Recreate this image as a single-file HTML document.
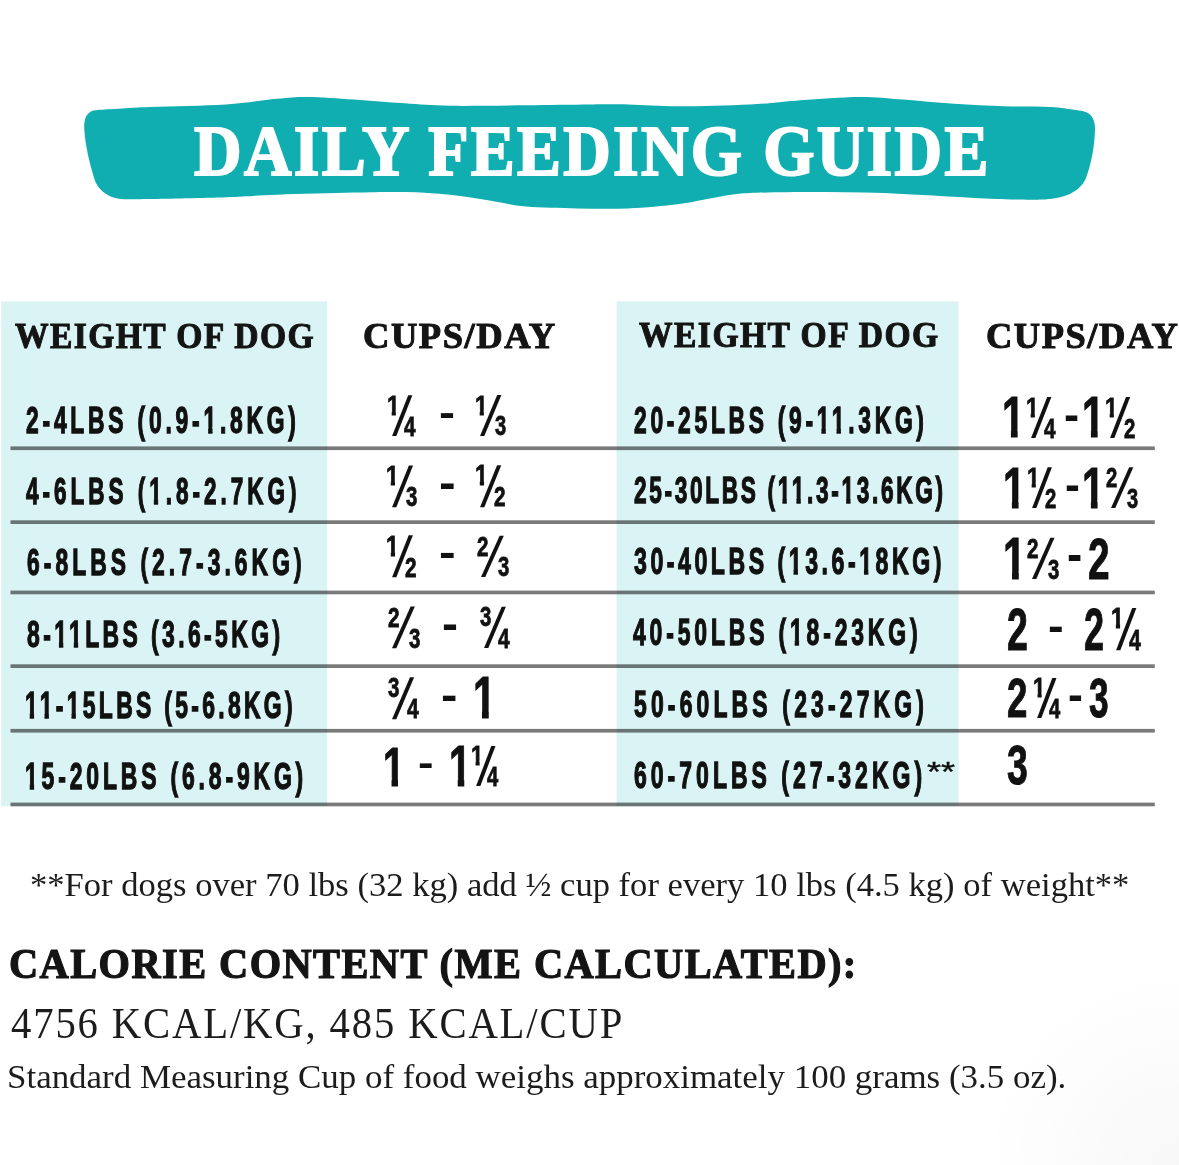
<!DOCTYPE html>
<html lang="en"><head><meta charset="utf-8"><title>Daily Feeding Guide</title>
<style>
html,body{margin:0;padding:0;background:#fff}
body{width:1179px;height:1165px;position:relative;overflow:hidden}
.bg{position:absolute;left:0;top:0}
.t{position:absolute;white-space:nowrap;line-height:1;transform-origin:0 0;color:#111}
.sa{font-family:"Liberation Sans","DejaVu Sans",sans-serif}
.se{font-family:"Liberation Serif","DejaVu Serif",serif}
.b{font-weight:700}
</style></head><body>
<svg class="bg" width="1179" height="1165" viewBox="0 0 1179 1165">
<defs><radialGradient id="sh" cx="1179" cy="1165" r="200" gradientUnits="userSpaceOnUse"><stop offset="0" stop-color="#000" stop-opacity="0.03"/><stop offset="1" stop-color="#000" stop-opacity="0"/></radialGradient></defs>
<rect x="0" y="0" width="1179" height="1165" fill="url(#sh)"/>
<path d="M96.0 110.2C105.0 109.7 128.3 108.0 150.0 107.1C171.7 106.1 204.8 105.9 226.0 104.5C247.2 103.1 263.3 100.0 277.0 98.7C290.7 97.4 295.2 96.8 308.0 96.9C320.8 97.0 337.9 98.4 354.0 99.5C370.1 100.6 388.5 102.2 404.5 103.3C420.5 104.3 429.8 105.5 450.0 105.8C470.2 106.1 502.7 105.5 526.0 105.3C549.3 105.1 573.0 104.6 590.0 104.5C607.0 104.4 613.2 104.2 628.0 104.5C642.8 104.8 658.7 106.3 679.0 106.3C699.3 106.3 729.7 105.5 750.0 104.5C770.3 103.5 782.8 101.5 801.0 100.2C819.2 98.9 842.0 97.0 859.0 96.9C876.0 96.8 887.2 98.3 903.0 99.5C918.8 100.7 937.1 102.7 954.0 103.8C970.9 104.9 988.5 105.8 1004.5 106.3C1020.5 106.8 1037.2 106.3 1050.0 107.1C1062.8 107.8 1075.8 110.2 1081.0 110.8C1090 112 1095 118 1095 128C1095 145 1091 165 1086 178C1080 192 1065 198 1045 199.4C1040.8 199.4 1031.0 199.8 1020.0 199.6C1009.0 199.4 998.5 199.1 979.0 198.2C959.5 197.2 928.5 194.9 903.0 193.9C877.5 192.9 851.5 192.2 826.0 192.1C800.5 192.0 768.2 192.2 750.0 193.1C731.8 193.9 728.8 195.4 717.0 197.2C705.2 199.0 693.8 202.1 679.0 204.0C664.2 205.9 645.0 207.7 628.0 208.4C611.0 209.1 594.0 208.7 577.0 208.4C560.0 208.1 540.8 207.9 526.0 206.6C511.2 205.2 500.7 202.3 488.0 200.3C475.3 198.3 463.9 196.1 450.0 194.7C436.1 193.3 420.5 192.4 404.5 192.1C388.5 191.8 375.2 192.2 354.0 192.6C332.8 193.0 298.3 193.9 277.0 194.7C255.7 195.5 247.2 196.5 226.0 197.2C204.8 197.9 167.0 198.7 150.0 199.0C133.0 199.3 128.3 199.2 124.0 199.3C110 198.8 100 192 95 181C90 165 85 145 84.2 128C83.8 117 88 110.5 96 110.2Z" fill="#10aeb0"/>
<rect x="1.2" y="301.3" width="325.9" height="505" fill="#daf3f4"/>
<rect x="616.6" y="301.3" width="342.0" height="505" fill="#daf3f4"/>
<rect x="10.5" y="446.4" width="1144.3" height="3.7" fill="#000" fill-opacity="0.52"/>
<rect x="10.5" y="520.3" width="1144.3" height="3.7" fill="#000" fill-opacity="0.52"/>
<rect x="10.5" y="590.6" width="1144.3" height="3.7" fill="#000" fill-opacity="0.52"/>
<rect x="10.5" y="664.3" width="1144.3" height="3.7" fill="#000" fill-opacity="0.52"/>
<rect x="10.5" y="728.9" width="1144.3" height="3.7" fill="#000" fill-opacity="0.52"/>
<rect x="10.5" y="802.6" width="1144.3" height="3.7" fill="#000" fill-opacity="0.52"/>
</svg>
<div class="t se b" style="left:193.94px;top:116.00px;font-size:70.84px;transform:scaleX(0.9297);letter-spacing:2.500px;-webkit-text-stroke:2.00px #ffffff;color:#ffffff">DAILY FEEDING GUIDE</div>
<div class="t se b" style="left:15.10px;top:318.70px;font-size:35.57px;transform:scaleX(0.9440);letter-spacing:1.500px;-webkit-text-stroke:1.00px #141414;color:#141414">WEIGHT OF DOG</div>
<div class="t se b" style="left:362.88px;top:318.50px;font-size:35.11px;transform:scaleX(1.0400);letter-spacing:1.500px;-webkit-text-stroke:1.00px #141414;color:#141414">CUPS/DAY</div>
<div class="t se b" style="left:638.69px;top:319.30px;font-size:34.81px;transform:scaleX(0.9649);letter-spacing:1.500px;-webkit-text-stroke:1.00px #141414;color:#141414">WEIGHT OF DOG</div>
<div class="t se b" style="left:985.75px;top:318.50px;font-size:35.42px;transform:scaleX(1.0295);letter-spacing:1.500px;-webkit-text-stroke:1.00px #141414;color:#141414">CUPS/DAY</div>
<div class="t sa b" style="left:26.18px;top:402.75px;font-size:36.83px;transform:scaleX(0.6200);letter-spacing:6.108px;-webkit-text-stroke:1.30px #111111">2-4LBS (0.9-<span style="clip-path:polygon(-30px -30px,90px -30px,90px 27.59px,14.60px 27.59px,14.60px 90px,7.65px 90px,7.65px 27.59px,-30px 27.59px)">1</span>.8KG)</div>
<div class="t sa b" style="left:25.53px;top:473.55px;font-size:36.26px;transform:scaleX(0.6200);letter-spacing:6.458px;-webkit-text-stroke:1.30px #111111">4-6LBS (<span style="clip-path:polygon(-30px -30px,90px -30px,90px 27.65px,14.39px 27.65px,14.39px 90px,7.51px 90px,7.51px 27.65px,-30px 27.65px)">1</span>.8-2.7KG)</div>
<div class="t sa b" style="left:27.02px;top:545.25px;font-size:36.83px;transform:scaleX(0.6200);letter-spacing:6.546px;-webkit-text-stroke:1.30px #111111">6-8LBS (2.7-3.6KG)</div>
<div class="t sa b" style="left:27.14px;top:615.55px;font-size:36.98px;transform:scaleX(0.6200);letter-spacing:5.474px;-webkit-text-stroke:1.30px #111111">8-<span style="clip-path:polygon(-30px -30px,90px -30px,90px 27.58px,14.65px 27.58px,14.65px 90px,7.68px 90px,7.68px 27.58px,-30px 27.58px)">1</span><span style="clip-path:polygon(-30px -30px,90px -30px,90px 27.58px,14.65px 27.58px,14.65px 90px,7.68px 90px,7.68px 27.58px,-30px 27.58px)">1</span>LBS (3.6-5KG)</div>
<div class="t sa b" style="left:25.49px;top:687.05px;font-size:36.98px;transform:scaleX(0.6200);letter-spacing:5.321px;-webkit-text-stroke:1.30px #111111"><span style="clip-path:polygon(-30px -30px,90px -30px,90px 27.58px,14.65px 27.58px,14.65px 90px,7.68px 90px,7.68px 27.58px,-30px 27.58px)">1</span><span style="clip-path:polygon(-30px -30px,90px -30px,90px 27.58px,14.65px 27.58px,14.65px 90px,7.68px 90px,7.68px 27.58px,-30px 27.58px)">1</span>-<span style="clip-path:polygon(-30px -30px,90px -30px,90px 27.58px,14.65px 27.58px,14.65px 90px,7.68px 90px,7.68px 27.58px,-30px 27.58px)">1</span>5LBS (5-6.8KG)</div>
<div class="t sa b" style="left:25.49px;top:758.05px;font-size:36.98px;transform:scaleX(0.6200);letter-spacing:6.212px;-webkit-text-stroke:1.30px #111111"><span style="clip-path:polygon(-30px -30px,90px -30px,90px 27.58px,14.65px 27.58px,14.65px 90px,7.68px 90px,7.68px 27.58px,-30px 27.58px)">1</span>5-20LBS (6.8-9KG)</div>
<div class="t sa b" style="left:633.68px;top:402.75px;font-size:36.83px;transform:scaleX(0.6200);letter-spacing:5.966px;-webkit-text-stroke:1.30px #111111">20-25LBS (9-<span style="clip-path:polygon(-30px -30px,90px -30px,90px 27.59px,14.60px 27.59px,14.60px 90px,7.65px 90px,7.65px 27.59px,-30px 27.59px)">1</span><span style="clip-path:polygon(-30px -30px,90px -30px,90px 27.59px,14.60px 27.59px,14.60px 90px,7.65px 90px,7.65px 27.59px,-30px 27.59px)">1</span>.3KG)</div>
<div class="t sa b" style="left:633.68px;top:473.25px;font-size:36.55px;transform:scaleX(0.6200);letter-spacing:4.296px;-webkit-text-stroke:1.30px #111111">25-30LBS (<span style="clip-path:polygon(-30px -30px,90px -30px,90px 27.62px,14.49px 27.62px,14.49px 90px,7.58px 90px,7.58px 27.62px,-30px 27.62px)">1</span><span style="clip-path:polygon(-30px -30px,90px -30px,90px 27.62px,14.49px 27.62px,14.49px 90px,7.58px 90px,7.58px 27.62px,-30px 27.62px)">1</span>.3-<span style="clip-path:polygon(-30px -30px,90px -30px,90px 27.62px,14.49px 27.62px,14.49px 90px,7.58px 90px,7.58px 27.62px,-30px 27.62px)">1</span>3.6KG)</div>
<div class="t sa b" style="left:633.90px;top:543.25px;font-size:37.27px;transform:scaleX(0.6200);letter-spacing:5.706px;-webkit-text-stroke:1.30px #111111">30-40LBS (<span style="clip-path:polygon(-30px -30px,90px -30px,90px 28.55px,14.76px 28.55px,14.76px 90px,7.75px 90px,7.75px 28.55px,-30px 28.55px)">1</span>3.6-<span style="clip-path:polygon(-30px -30px,90px -30px,90px 28.55px,14.76px 28.55px,14.76px 90px,7.75px 90px,7.75px 28.55px,-30px 28.55px)">1</span>8KG)</div>
<div class="t sa b" style="left:633.06px;top:614.25px;font-size:36.98px;transform:scaleX(0.6200);letter-spacing:6.213px;-webkit-text-stroke:1.30px #111111">40-50LBS (<span style="clip-path:polygon(-30px -30px,90px -30px,90px 27.58px,14.65px 27.58px,14.65px 90px,7.68px 90px,7.68px 27.58px,-30px 27.58px)">1</span>8-23KG)</div>
<div class="t sa b" style="left:633.68px;top:685.75px;font-size:36.98px;transform:scaleX(0.6200);letter-spacing:6.720px;-webkit-text-stroke:1.30px #111111">50-60LBS (23-27KG)</div>
<div class="t sa b" style="left:634.16px;top:756.65px;font-size:37.12px;transform:scaleX(0.6200);letter-spacing:6.470px;-webkit-text-stroke:1.30px #111111">60-70LBS (27-32KG)</div>
<div class="t sa" style="left:926.92px;top:757.24px;font-size:28.17px;transform:scaleX(1.2789);-webkit-text-stroke:0.40px #111111">**</div>
<div class="t sa b" style="left:386.69px;top:391.84px;font-size:27.97px;transform:scaleX(0.8000);clip-path:polygon(-40px -40px,400px -40px,400px 18.55px,11.06px 18.55px,11.06px 63.00px,5.83px 63.00px,5.83px 18.55px,-40px 18.55px);-webkit-text-stroke:0.80px #111111">1</div>
<div class="t sa b" style="left:391.72px;top:389.00px;font-size:54.93px;transform-origin:0 46.00px;transform:scaleX(0.6598) skewX(-22.15deg)">/</div>
<div class="t sa b" style="left:404.35px;top:412.70px;font-size:27.89px;transform:scaleX(0.7400);-webkit-text-stroke:0.80px #111111">4</div>
<div class="t sa b" style="left:438.62px;top:391.80px;font-size:40.00px;transform:scaleX(1.2019)">-</div>
<div class="t sa b" style="left:474.87px;top:391.69px;font-size:28.04px;transform:scaleX(0.8000);clip-path:polygon(-40px -40px,400px -40px,400px 18.54px,11.09px 18.54px,11.09px 63.00px,5.84px 63.00px,5.84px 18.54px,-40px 18.54px);-webkit-text-stroke:0.80px #111111">1</div>
<div class="t sa b" style="left:480.12px;top:388.90px;font-size:55.06px;transform-origin:0 46.00px;transform:scaleX(0.6582) skewX(-24.00deg)">/</div>
<div class="t sa b" style="left:494.95px;top:412.33px;font-size:27.17px;transform:scaleX(0.7400);-webkit-text-stroke:0.80px #111111">3</div>
<div class="t sa b" style="left:386.24px;top:461.18px;font-size:28.47px;transform:scaleX(0.8000);clip-path:polygon(-40px -40px,400px -40px,400px 19.50px,11.25px 19.50px,11.25px 64.00px,5.94px 64.00px,5.94px 19.50px,-40px 19.50px);-webkit-text-stroke:0.80px #111111">1</div>
<div class="t sa b" style="left:391.56px;top:458.68px;font-size:55.87px;transform-origin:0 47.00px;transform:scaleX(0.6487) skewX(-23.47deg)">/</div>
<div class="t sa b" style="left:405.89px;top:483.12px;font-size:27.58px;transform:scaleX(0.7400);-webkit-text-stroke:0.80px #111111">3</div>
<div class="t sa b" style="left:438.75px;top:459.67px;font-size:45.83px;transform:scaleX(1.0909)">-</div>
<div class="t sa b" style="left:474.70px;top:461.08px;font-size:28.61px;transform:scaleX(0.8000);clip-path:polygon(-40px -40px,400px -40px,400px 19.48px,11.30px 19.48px,11.30px 64.00px,5.98px 64.00px,5.98px 19.48px,-40px 19.48px);-webkit-text-stroke:0.80px #111111">1</div>
<div class="t sa b" style="left:480.09px;top:458.68px;font-size:56.14px;transform-origin:0 47.00px;transform:scaleX(0.6456) skewX(-23.74deg)">/</div>
<div class="t sa b" style="left:494.38px;top:483.40px;font-size:28.12px;transform:scaleX(0.7400);-webkit-text-stroke:0.80px #111111">2</div>
<div class="t sa b" style="left:386.20px;top:531.78px;font-size:28.61px;transform:scaleX(0.8000);clip-path:polygon(-40px -40px,400px -40px,400px 19.48px,11.30px 19.48px,11.30px 64.00px,5.98px 64.00px,5.98px 19.48px,-40px 19.48px);-webkit-text-stroke:0.80px #111111">1</div>
<div class="t sa b" style="left:391.52px;top:529.38px;font-size:56.14px;transform-origin:0 47.00px;transform:scaleX(0.6456) skewX(-23.08deg)">/</div>
<div class="t sa b" style="left:405.38px;top:554.10px;font-size:28.12px;transform:scaleX(0.7400);-webkit-text-stroke:0.80px #111111">2</div>
<div class="t sa b" style="left:438.75px;top:532.30px;font-size:42.50px;transform:scaleX(1.1765)">-</div>
<div class="t sa b" style="left:476.88px;top:532.54px;font-size:27.77px;transform:scaleX(0.7400);-webkit-text-stroke:0.80px #111111">2</div>
<div class="t sa b" style="left:481.11px;top:529.89px;font-size:55.46px;transform-origin:0 46.00px;transform:scaleX(0.6534) skewX(-26.55deg)">/</div>
<div class="t sa b" style="left:497.57px;top:553.33px;font-size:27.38px;transform:scaleX(0.7400);-webkit-text-stroke:0.80px #111111">3</div>
<div class="t sa b" style="left:387.97px;top:603.53px;font-size:28.05px;transform:scaleX(0.7400);-webkit-text-stroke:0.80px #111111">2</div>
<div class="t sa b" style="left:392.21px;top:600.08px;font-size:56.00px;transform-origin:0 47.00px;transform:scaleX(0.6471) skewX(-26.55deg)">/</div>
<div class="t sa b" style="left:408.56px;top:624.52px;font-size:27.65px;transform:scaleX(0.7400);-webkit-text-stroke:0.80px #111111">3</div>
<div class="t sa b" style="left:441.62px;top:601.07px;font-size:45.83px;transform:scaleX(1.0490)">-</div>
<div class="t sa b" style="left:479.79px;top:603.16px;font-size:27.51px;transform:scaleX(0.7400);-webkit-text-stroke:0.80px #111111">3</div>
<div class="t sa b" style="left:483.62px;top:600.88px;font-size:55.73px;transform-origin:0 46.00px;transform:scaleX(0.6503) skewX(-24.90deg)">/</div>
<div class="t sa b" style="left:497.88px;top:623.60px;font-size:28.31px;transform:scaleX(0.7400);-webkit-text-stroke:0.80px #111111">4</div>
<div class="t sa b" style="left:388.19px;top:673.80px;font-size:27.72px;transform:scaleX(0.7400);-webkit-text-stroke:0.80px #111111">3</div>
<div class="t sa b" style="left:392.08px;top:670.68px;font-size:56.14px;transform-origin:0 47.00px;transform:scaleX(0.6456) skewX(-25.41deg)">/</div>
<div class="t sa b" style="left:406.59px;top:694.40px;font-size:28.52px;transform:scaleX(0.7400);-webkit-text-stroke:0.80px #111111">4</div>
<div class="t sa b" style="left:441.28px;top:671.50px;font-size:45.00px;transform:scaleX(1.0940)">-</div>
<div class="t sa b" style="left:473.15px;top:669.30px;font-size:58.58px;transform:scaleX(0.7000);clip-path:polygon(-40px -40px,400px -40px,400px 41.32px,22.51px 41.32px,22.51px 89.00px,12.87px 89.00px,12.87px 41.32px,-40px 41.32px);-webkit-text-stroke:1.00px #111111">1</div>
<div class="t sa b" style="left:383.01px;top:739.60px;font-size:55.67px;transform:scaleX(0.7000);clip-path:polygon(-40px -40px,400px -40px,400px 38.62px,21.43px 38.62px,21.43px 86.00px,12.19px 86.00px,12.19px 38.62px,-40px 38.62px);-webkit-text-stroke:1.00px #111111">1</div>
<div class="t sa b" style="left:418.37px;top:744.47px;font-size:38.33px;transform:scaleX(1.2140)">-</div>
<div class="t sa b" style="left:448.54px;top:738.50px;font-size:56.69px;transform:scaleX(0.7000);clip-path:polygon(-40px -40px,400px -40px,400px 39.52px,21.81px 39.52px,21.81px 87.00px,12.43px 87.00px,12.43px 39.52px,-40px 39.52px);-webkit-text-stroke:1.00px #111111">1</div>
<div class="t sa b" style="left:470.98px;top:742.20px;font-size:27.33px;transform:scaleX(0.8000);clip-path:polygon(-40px -40px,400px -40px,400px 18.61px,10.83px 18.61px,10.83px 63.00px,5.68px 63.00px,5.68px 18.61px,-40px 18.61px);-webkit-text-stroke:0.80px #111111">1</div>
<div class="t sa b" style="left:475.63px;top:739.92px;font-size:53.72px;transform-origin:0 45.00px;transform:scaleX(0.6746) skewX(-20.39deg)">/</div>
<div class="t sa b" style="left:487.41px;top:762.60px;font-size:27.25px;transform:scaleX(0.7400);-webkit-text-stroke:0.80px #111111">4</div>
<div class="t sa b" style="left:1002.37px;top:388.40px;font-size:58.14px;transform:scaleX(0.7000);clip-path:polygon(-40px -40px,400px -40px,400px 41.37px,22.35px 41.37px,22.35px 89.00px,12.77px 89.00px,12.77px 41.37px,-40px 41.37px);-webkit-text-stroke:1.00px #111111">1</div>
<div class="t sa b" style="left:1026.37px;top:393.59px;font-size:28.04px;transform:scaleX(0.8000);clip-path:polygon(-40px -40px,400px -40px,400px 18.54px,11.09px 18.54px,11.09px 63.00px,5.84px 63.00px,5.84px 18.54px,-40px 18.54px);-webkit-text-stroke:0.80px #111111">1</div>
<div class="t sa b" style="left:1031.42px;top:390.80px;font-size:55.06px;transform-origin:0 46.00px;transform:scaleX(0.6582) skewX(-22.15deg)">/</div>
<div class="t sa b" style="left:1044.02px;top:414.50px;font-size:27.96px;transform:scaleX(0.7400);-webkit-text-stroke:0.80px #111111">4</div>
<div class="t sa b" style="left:1064.11px;top:391.77px;font-size:45.83px;transform:scaleX(0.9902)">-</div>
<div class="t sa b" style="left:1081.57px;top:388.40px;font-size:58.14px;transform:scaleX(0.7000);clip-path:polygon(-40px -40px,400px -40px,400px 41.37px,22.35px 41.37px,22.35px 89.00px,12.77px 89.00px,12.77px 41.37px,-40px 41.37px);-webkit-text-stroke:1.00px #111111">1</div>
<div class="t sa b" style="left:1105.37px;top:393.59px;font-size:28.04px;transform:scaleX(0.8000);clip-path:polygon(-40px -40px,400px -40px,400px 18.54px,11.09px 18.54px,11.09px 63.00px,5.84px 63.00px,5.84px 18.54px,-40px 18.54px);-webkit-text-stroke:0.80px #111111">1</div>
<div class="t sa b" style="left:1110.37px;top:390.80px;font-size:55.06px;transform-origin:0 46.00px;transform:scaleX(0.6582) skewX(-21.74deg)">/</div>
<div class="t sa b" style="left:1123.60px;top:414.50px;font-size:27.56px;transform:scaleX(0.7400);-webkit-text-stroke:0.80px #111111">2</div>
<div class="t sa b" style="left:1002.64px;top:459.80px;font-size:57.85px;transform:scaleX(0.7000);clip-path:polygon(-40px -40px,400px -40px,400px 40.40px,22.24px 40.40px,22.24px 88.00px,12.70px 88.00px,12.70px 40.40px,-40px 40.40px);-webkit-text-stroke:1.00px #111111">1</div>
<div class="t sa b" style="left:1027.11px;top:464.09px;font-size:27.90px;transform:scaleX(0.8000);clip-path:polygon(-40px -40px,400px -40px,400px 18.55px,11.04px 18.55px,11.04px 63.00px,5.81px 63.00px,5.81px 18.55px,-40px 18.55px);-webkit-text-stroke:0.80px #111111">1</div>
<div class="t sa b" style="left:1032.02px;top:461.20px;font-size:54.79px;transform-origin:0 46.00px;transform:scaleX(0.6614) skewX(-21.20deg)">/</div>
<div class="t sa b" style="left:1044.95px;top:484.90px;font-size:27.42px;transform:scaleX(0.7400);-webkit-text-stroke:0.80px #111111">2</div>
<div class="t sa b" style="left:1064.74px;top:462.17px;font-size:45.83px;transform:scaleX(0.9734)">-</div>
<div class="t sa b" style="left:1082.14px;top:459.80px;font-size:57.85px;transform:scaleX(0.7000);clip-path:polygon(-40px -40px,400px -40px,400px 40.40px,22.24px 40.40px,22.24px 88.00px,12.70px 88.00px,12.70px 40.40px,-40px 40.40px);-webkit-text-stroke:1.00px #111111">1</div>
<div class="t sa b" style="left:1106.39px;top:464.09px;font-size:27.42px;transform:scaleX(0.7400);-webkit-text-stroke:0.80px #111111">2</div>
<div class="t sa b" style="left:1110.51px;top:461.20px;font-size:54.79px;transform-origin:0 46.00px;transform:scaleX(0.6614) skewX(-25.67deg)">/</div>
<div class="t sa b" style="left:1126.50px;top:485.63px;font-size:27.03px;transform:scaleX(0.7400);-webkit-text-stroke:0.80px #111111">3</div>
<div class="t sa b" style="left:1002.92px;top:529.80px;font-size:58.72px;transform:scaleX(0.7000);clip-path:polygon(-40px -40px,400px -40px,400px 41.31px,22.56px 41.31px,22.56px 89.00px,12.91px 89.00px,12.91px 41.31px,-40px 41.31px);-webkit-text-stroke:1.00px #111111">1</div>
<div class="t sa b" style="left:1027.38px;top:534.79px;font-size:27.84px;transform:scaleX(0.7400);-webkit-text-stroke:0.80px #111111">2</div>
<div class="t sa b" style="left:1031.55px;top:532.19px;font-size:55.60px;transform-origin:0 46.00px;transform:scaleX(0.6518) skewX(-26.05deg)">/</div>
<div class="t sa b" style="left:1047.64px;top:555.63px;font-size:27.45px;transform:scaleX(0.7400);-webkit-text-stroke:0.80px #111111">3</div>
<div class="t sa b" style="left:1067.10px;top:529.23px;font-size:49.17px;transform:scaleX(0.9309)">-</div>
<div class="t sa b" style="left:1088.17px;top:530.80px;font-size:57.71px;transform:scaleX(0.6728);-webkit-text-stroke:1.00px #111111">2</div>
<div class="t sa b" style="left:1006.79px;top:600.50px;font-size:58.71px;transform:scaleX(0.6382);-webkit-text-stroke:1.00px #111111">2</div>
<div class="t sa b" style="left:1048.06px;top:602.60px;font-size:45.00px;transform:scaleX(1.0427)">-</div>
<div class="t sa b" style="left:1084.22px;top:600.50px;font-size:58.71px;transform:scaleX(0.6147);-webkit-text-stroke:1.00px #111111">2</div>
<div class="t sa b" style="left:1110.93px;top:604.13px;font-size:28.82px;transform:scaleX(0.8000);clip-path:polygon(-40px -40px,400px -40px,400px 19.46px,11.38px 19.46px,11.38px 64.00px,6.03px 64.00px,6.03px 19.46px,-40px 19.46px);-webkit-text-stroke:0.80px #111111">1</div>
<div class="t sa b" style="left:1116.22px;top:601.87px;font-size:56.54px;transform-origin:0 47.00px;transform:scaleX(0.6410) skewX(-22.15deg)">/</div>
<div class="t sa b" style="left:1128.50px;top:625.60px;font-size:28.74px;transform:scaleX(0.7400);-webkit-text-stroke:0.80px #111111">4</div>
<div class="t sa b" style="left:1006.63px;top:671.40px;font-size:55.71px;transform:scaleX(0.6572);-webkit-text-stroke:1.00px #111111">2</div>
<div class="t sa b" style="left:1032.68px;top:674.10px;font-size:27.33px;transform:scaleX(0.8000);clip-path:polygon(-40px -40px,400px -40px,400px 18.61px,10.83px 18.61px,10.83px 63.00px,5.68px 63.00px,5.68px 18.61px,-40px 18.61px);-webkit-text-stroke:0.80px #111111">1</div>
<div class="t sa b" style="left:1037.33px;top:671.82px;font-size:53.72px;transform-origin:0 45.00px;transform:scaleX(0.6746) skewX(-20.39deg)">/</div>
<div class="t sa b" style="left:1049.11px;top:694.50px;font-size:27.25px;transform:scaleX(0.7400);-webkit-text-stroke:0.80px #111111">4</div>
<div class="t sa b" style="left:1068.44px;top:672.17px;font-size:45.83px;transform:scaleX(0.9734)">-</div>
<div class="t sa b" style="left:1089.32px;top:670.85px;font-size:54.93px;transform:scaleX(0.6429);-webkit-text-stroke:1.00px #111111">3</div>
<div class="t sa b" style="left:1006.58px;top:736.94px;font-size:56.06px;transform:scaleX(0.6683);-webkit-text-stroke:1.00px #111111">3</div>
<div class="t se" style="left:30.48px;top:867.60px;font-size:34.05px;transform:scaleX(1.0154);color:#1c1c1c">**For dogs over 70 lbs (32 kg) add ½ cup for every 10 lbs (4.5 kg) of weight**</div>
<div class="t se b" style="left:9.45px;top:942.50px;font-size:42.44px;transform:scaleX(0.9518);letter-spacing:1.500px;-webkit-text-stroke:1.20px #141414;color:#141414">CALORIE CONTENT (ME CALCULATED):</div>
<div class="t se" style="left:10.89px;top:1001.90px;font-size:44.27px;transform:scaleX(0.9195);letter-spacing:2.000px;color:#1c1c1c">4756 KCAL/KG, 485 KCAL/CUP</div>
<div class="t se" style="left:7.39px;top:1059.90px;font-size:34.05px;transform:scaleX(1.0259);color:#1c1c1c">Standard Measuring Cup of food weighs approximately 100 grams (3.5 oz).</div>
</body></html>
